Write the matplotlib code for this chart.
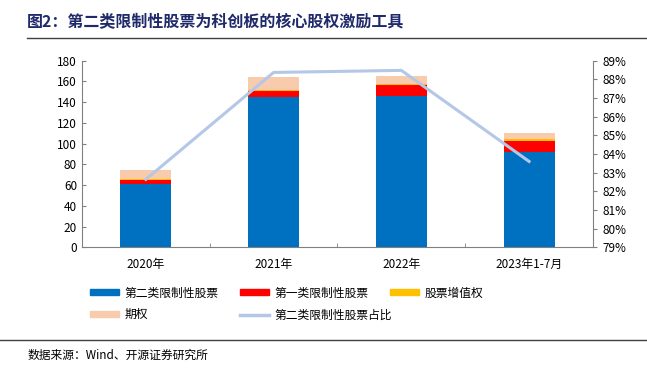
import numpy as np
import matplotlib
matplotlib.use('Agg')
from matplotlib import pyplot as plt
from matplotlib.lines import Line2D
from matplotlib.patches import Patch

plt.rcParams['font.family'] = ['Noto Sans CJK SC', 'DejaVu Sans']

# data
categories = ['2020年', '2021年', '2022年', '2023年1-7月']
type2_stock = [61.3, 144.8, 146.0, 91.5]
type1_stock = [3.3, 6.2, 10.8, 11.5]
sar = [0.8, 1.2, 1.0, 1.0]
options = [9.1, 11.8, 7.7, 6.0]
type2_share = [82.64, 88.37, 88.48, 83.6]
left_ticks = list(range(0, 181, 20))
right_ticks = list(range(79, 90))

c_blue = '#0070C0'
c_red = '#FF0000'
c_yellow = '#FFC000'
c_peach = '#F8CBAD'
c_line = '#B4C7E7'

fig = plt.figure(figsize=(6.47, 3.70), dpi=100)
ax = fig.add_axes([0.1267, 0.3316, 0.7898, 0.5044])
x = np.arange(len(categories))
w = 0.4

b1 = np.array(type2_stock)
b2 = b1 + np.array(type1_stock)
b3 = b2 + np.array(sar)
ax.bar(x, type2_stock, w, color=c_blue, zorder=2)
ax.bar(x, type1_stock, w, bottom=b1, color=c_red, zorder=2)
ax.bar(x, sar, w, bottom=b2, color=c_yellow, zorder=2)
ax.bar(x, options, w, bottom=b3, color=c_peach, zorder=2)

ax.set_xlim(-0.5, 3.5)
ax.set_ylim(0, 180)
ax.set_yticks(left_ticks)
ax.set_xticks(x)
ax.set_xticklabels(categories)
ax.tick_params(axis='x', length=0, labelsize=8.5, pad=8)
ax.set_xticks([0.5, 1.5, 2.5], minor=True)
ax.tick_params(axis='x', which='minor', direction='in', length=3, color='#808080')
ax.tick_params(axis='y', direction='in', length=3, labelsize=8.5, color='#808080')
for s in ['top', 'right']:
    ax.spines[s].set_visible(False)
for s in ['left', 'bottom']:
    ax.spines[s].set_color('#808080')

ax2 = ax.twinx()
ax2.plot(x, type2_share, color=c_line, lw=2.2, zorder=3)
ax2.set_ylim(79, 89)
ax2.set_yticks(right_ticks)
ax2.set_yticklabels([f'{t}%' for t in right_ticks])
ax2.tick_params(axis='y', direction='out', length=3, labelsize=8.5, color='#808080')
for s in ['top', 'left', 'bottom']:
    ax2.spines[s].set_visible(False)
ax2.spines['right'].set_color('#808080')

# legend: three fixed-width columns
columns = [
    ([Patch(color=c_blue), Patch(color=c_peach)], ['第二类限制性股票', '期权'], 88),
    ([Patch(color=c_red), Line2D([0], [0], color=c_line, lw=2.5)], ['第一类限制性股票', '第二类限制性股票占比'], 238),
    ([Patch(color=c_yellow)], ['股票增值权'], 388),
]
for hs, ls, px in columns:
    fig.legend(hs, ls, loc='upper left', bbox_to_anchor=(px / 647, 0.232),
               frameon=False, fontsize=8.5, handlelength=2.4, handleheight=0.45,
               labelspacing=0.75, handletextpad=0.5, borderaxespad=0, borderpad=0.2)

fig.text(0.042, 0.94, '图2：第二类限制性股票为科创板的核心股权激励工具',
         fontsize=11.5, fontweight='bold', color='#1F2A6B', va='center')
fig.add_artist(Line2D([0.042, 1.0], [0.897, 0.897], color='#404040', lw=1.0))
fig.add_artist(Line2D([0.0, 1.0], [0.082, 0.082], color='#404040', lw=1.0))
fig.text(0.042, 0.04, '数据来源：Wind、开源证券研究所', fontsize=8.5, va='center')

plt.savefig('out.png', dpi=100)
